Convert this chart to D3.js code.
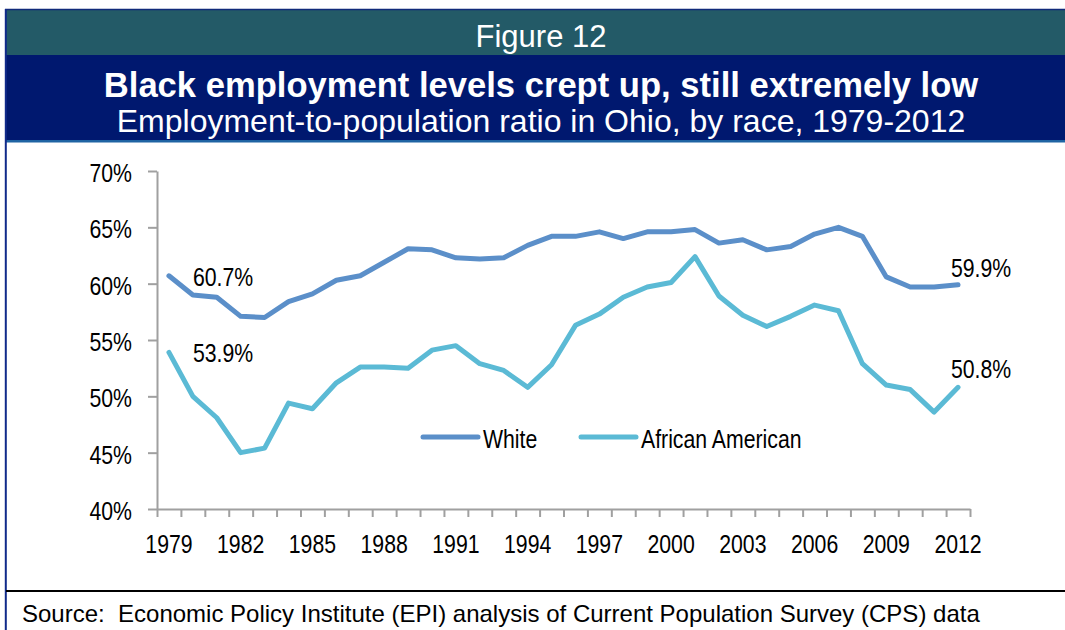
<!DOCTYPE html>
<html>
<head>
<meta charset="utf-8">
<script src="https://cdn.jsdelivr.net/npm/d3@7"></script>
<style>
  body { margin: 0; background: #fff; }
  svg { display: block; font-family: "Liberation Sans", Arial, sans-serif; }
  .axis path, .axis line { stroke: #a0a0a0; stroke-width: 2; }
  .axis text { fill: #000; font-size: 25px; }
</style>
</head>
<body>
<svg width="1065" height="630"></svg>
<script>
// **** data ****
var years = d3.range(1979, 2013);
var labelYears = [1979, 1982, 1985, 1988, 1991, 1994, 1997, 2000, 2003, 2006, 2009, 2012];
var yTicks = [40, 45, 50, 55, 60, 65, 70];
var seriesNames = ["White", "African American"];
var white = [60.7, 59.0, 58.8, 57.1, 57.0, 58.4, 59.1, 60.3, 60.7, 61.9, 63.1, 63.0,
             62.3, 62.2, 62.3, 63.4, 64.2, 64.2, 64.6, 64.0, 64.6, 64.6, 64.8, 63.6,
             63.9, 63.0, 63.3, 64.4, 65.0, 64.2, 60.6, 59.7, 59.7, 59.9];
var black = [53.9, 50.0, 48.1, 45.0, 45.4, 49.4, 48.9, 51.2, 52.6, 52.6, 52.5, 54.1,
             54.5, 52.9, 52.3, 50.8, 52.8, 56.3, 57.3, 58.8, 59.7, 60.1, 62.4, 58.9,
             57.2, 56.2, 57.1, 58.1, 57.6, 52.9, 51.0, 50.6, 48.6, 50.8];
var colors = ["#5b8fc9", "#5bbad5"];

var svg = d3.select("svg");
var narrow = 0.85; // chart text is a condensed face

// **** frame and header ****
svg.append("rect").attr("x", 6).attr("y", 10).attr("width", 1059).attr("height", 45).attr("fill", "#235a67");
svg.append("rect").attr("x", 6).attr("y", 55).attr("width", 1059).attr("height", 85).attr("fill", "#00186f");
svg.append("rect").attr("x", 6).attr("y", 140).attr("width", 1059).attr("height", 2.5).attr("fill", "#1f64a3");
svg.append("line").attr("x1", 5).attr("x2", 1065).attr("y1", 9.5).attr("y2", 9.5)
    .attr("stroke", "#102a7a").attr("stroke-width", 1.5);
svg.append("line").attr("x1", 5.8).attr("x2", 5.8).attr("y1", 9).attr("y2", 630)
    .attr("stroke", "#102a8a").attr("stroke-width", 2);
svg.append("line").attr("x1", 6).attr("x2", 1065).attr("y1", 591).attr("y2", 591)
    .attr("stroke", "#000").attr("stroke-width", 2);

svg.append("text").attr("x", 541).attr("y", 47).attr("text-anchor", "middle")
    .attr("fill", "#fff").style("font-size", "31px").text("Figure 12");
svg.append("text").attr("x", 541).attr("y", 97).attr("text-anchor", "middle")
    .attr("fill", "#fff").style("font-size", "34.6px").style("font-weight", "bold")
    .text("Black employment levels crept up, still extremely low");
svg.append("text").attr("x", 541).attr("y", 132).attr("text-anchor", "middle")
    .attr("fill", "#fff").style("font-size", "32px")
    .text("Employment-to-population ratio in Ohio, by race, 1979-2012");

svg.append("text").attr("x", 22).attr("y", 622).style("font-size", "24px").attr("fill", "#000")
    .style("white-space", "pre")
    .text("Source:  Economic Policy Institute (EPI) analysis of Current Population Survey (CPS) data");

// **** scales ****
var x = d3.scaleBand().domain(years).range([157, 970]);
var xEdge = d3.scaleLinear().domain([1979, 2013]).range([157, 970]);
var y = d3.scaleLinear().domain([40, 70]).range([509, 171]);

// **** axes ****
svg.append("g").attr("class", "axis")
    .attr("transform", "translate(157,0)")
    .call(d3.axisLeft(y).tickValues(yTicks).tickSize(9).tickSizeOuter(0)
        .tickFormat(function(d) { return d + "%"; }))
    .call(function(g) {
        g.selectAll("text").attr("x", 0).attr("dy", "0.42em")
            .attr("transform", "translate(-25,0) scale(" + narrow + ",1)");
    });

svg.append("g").attr("class", "axis")
    .attr("transform", "translate(0,509)")
    .call(d3.axisBottom(xEdge).tickValues(d3.range(1979, 2014)).tickSize(8)
        .tickSizeOuter(0).tickFormat(""));

svg.append("g").attr("class", "axis")
    .attr("transform", "translate(0,509)")
    .call(d3.axisBottom(x).tickValues(labelYears).tickSize(0).tickPadding(26))
    .call(function(g) {
        g.select(".domain").remove();
        g.selectAll("text").attr("transform", "scale(" + narrow + ",1)");
    });

// **** lines ****
var line = d3.line()
    .x(function(d, i) { return x(years[i]) + x.bandwidth() / 2; })
    .y(function(d) { return y(d); });

[white, black].forEach(function(s, i) {
    svg.append("path").datum(s)
        .attr("d", line)
        .attr("fill", "none")
        .attr("stroke", colors[i])
        .attr("stroke-width", 5)
        .attr("stroke-linejoin", "round")
        .attr("stroke-linecap", "round");
});

// **** labels ****
function ntext(tx, ty, str) {
    svg.append("text")
        .attr("transform", "translate(" + tx + "," + ty + ") scale(" + narrow + ",1)")
        .style("font-size", "25px").attr("fill", "#000")
        .text(str);
}
var last = years.length - 1;
ntext(193, 286, white[0].toFixed(1) + "%");
ntext(193, 362, black[0].toFixed(1) + "%");
ntext(951, 277, white[last].toFixed(1) + "%");
ntext(951, 378, black[last].toFixed(1) + "%");

// **** legend ****
var legendX = [423, 581];
seriesNames.forEach(function(name, i) {
    svg.append("line")
        .attr("x1", legendX[i]).attr("x2", legendX[i] + 55)
        .attr("y1", 437).attr("y2", 437)
        .attr("stroke", colors[i]).attr("stroke-width", 5)
        .attr("stroke-linecap", "round");
    ntext(legendX[i] + 60, 448, name);
});
</script>
</body>
</html>
